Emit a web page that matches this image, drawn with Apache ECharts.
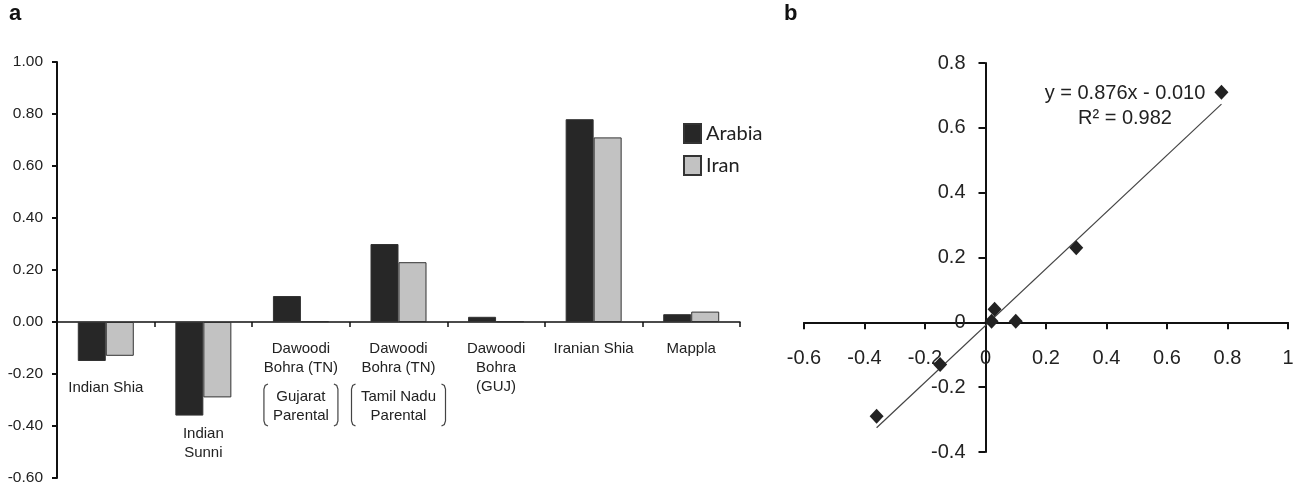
<!DOCTYPE html>
<html><head><meta charset="utf-8">
<script src="https://cdn.jsdelivr.net/npm/echarts@6/dist/echarts.min.js"></script>
<style>html,body{margin:0;padding:0;background:#fff}#c{width:1297px;height:488px}</style>
</head><body><div id="c"></div>
<script>
// ---- data ----
const categories = ['Indian Shia','Indian Sunni','DB_TN_G','DB_TN_T','DB_GUJ','Iranian Shia','Mappla'];
const categoryLabels = [
  '{sp39|\u00a0}\n{t|Indian Shia}',
  '{sp85|\u00a0}\n{t|Indian}\n{t|Sunni}',
  '{t|Dawoodi}\n{t|Bohra (TN)}\n{sp10|\u00a0}\n{t|Gujarat}\n{t|Parental}',
  '{t|Dawoodi}\n{t|Bohra (TN)}\n{sp10|\u00a0}\n{t|Tamil Nadu}\n{t|Parental}',
  '{t|Dawoodi}\n{t|Bohra}\n{t|(GUJ)}',
  '{t|Iranian Shia}',
  '{t|Mappla}'
];
const arabia = [-0.15, -0.36, 0.10, 0.30, 0.02, 0.78, 0.03];
const iran   = [-0.13, -0.29, 0.003, 0.23, 0.003, 0.71, 0.04];
const trendX = [-0.36, 0.78];
const trendY = [-0.325, 0.673];
const equationLines = ['y = 0.876x - 0.010', 'R² = 0.982'];
const bracketCats = [2, 3];

const FF = "'Liberation Sans', Arial, sans-serif";
const W = 1297, H = 488;
const G0 = { left: 57, right: 557, top: 62, bottom: 10 };
const G1 = { left: 804, right: 9, top: 63, bottom: 36 };
const Y0 = { min: -0.6, max: 1, interval: 0.2 };
const X1 = { min: -0.6, max: 1, interval: 0.2 };
const Y1 = { min: -0.4, max: 0.8, interval: 0.2 };
// layout offsets so tick labels sit along the zero lines
const g0h = H - G0.top - G0.bottom;
const zero0 = g0h * (Y0.max / (Y0.max - Y0.min));           // from grid top
const g1h = H - G1.top - G1.bottom, g1w = W - G1.left - G1.right;
const zero1y = g1h * (Y1.max / (Y1.max - Y1.min));
const zero1x = g1w * (-X1.min / (X1.max - X1.min));         // from grid left

const chart = echarts.init(document.getElementById('c'));
const scatterData = arabia.map((a, i) => [a, iran[i]]);
const rt = (lh) => ({ fontFamily: FF, fontSize: 15, lineHeight: lh, color: '#222' });

chart.setOption({
  animation: false,
  textStyle: { fontFamily: FF },
  grid: [
    Object.assign({ containLabel: false, outerBoundsMode: 'none' }, G0),
    Object.assign({ containLabel: false, outerBoundsMode: 'none' }, G1)
  ],
  legend: {
    data: ['Arabia', 'Iran'], orient: 'vertical', left: 678, top: 118,
    itemWidth: 17, itemHeight: 19, itemGap: 11, icon: 'rect',
    textStyle: { fontFamily: "Lato, 'Open Sans', sans-serif", fontSize: 20, color: '#222' }
  },
  xAxis: [
    { type: 'category', gridIndex: 0, data: categories, position: 'bottom',
      axisLine: { onZero: true, lineStyle: { color: '#111', width: 1.5 } },
      axisTick: { show: true, interval: 0, length: 5, lineStyle: { color: '#111', width: 1.5 } },
      axisLabel: { show: false }, splitLine: { show: false } },
    Object.assign({ type: 'value', gridIndex: 1, position: 'bottom',
      axisLine: { onZero: true, lineStyle: { color: '#111', width: 2 } },
      axisTick: { show: true, length: 7, lineStyle: { color: '#111', width: 2 } },
      axisLabel: { show: false }, splitLine: { show: false } }, X1),
    // label-only axes placed along the zero lines
    { type: 'category', gridIndex: 0, data: categories, position: 'top', offset: -zero0,
      axisLine: { show: false, onZero: false }, axisTick: { show: false },
      axisLabel: { inside: true, interval: 0, margin: 17, color: '#222',
        formatter: (v, i) => categoryLabels[i],
        rich: { t: rt(19), sp39: rt(39), sp85: rt(85), sp10: rt(10) } },
      splitLine: { show: false } },
    Object.assign({ type: 'value', gridIndex: 1, position: 'top', offset: -zero1y,
      axisLine: { show: false, onZero: false }, axisTick: { show: false },
      axisLabel: { inside: true, margin: 26, fontSize: 20, color: '#222', fontFamily: FF },
      splitLine: { show: false } }, X1)
  ],
  yAxis: [
    Object.assign({ type: 'value', gridIndex: 0,
      axisLine: { show: true, onZero: false, lineStyle: { color: '#111', width: 2 } },
      axisTick: { show: true, length: 5, lineStyle: { color: '#111', width: 2 } },
      axisLabel: { margin: 14, fontSize: 15.5, color: '#222', fontFamily: FF, formatter: v => v.toFixed(2) },
      splitLine: { show: false } }, Y0),
    Object.assign({ type: 'value', gridIndex: 1, position: 'left',
      axisLine: { show: true, onZero: true, lineStyle: { color: '#111', width: 2 } },
      axisTick: { show: true, length: 7, lineStyle: { color: '#111', width: 2 } },
      axisLabel: { show: false }, splitLine: { show: false } }, Y1),
    Object.assign({ type: 'value', gridIndex: 1, position: 'right', offset: -(g1w - zero1x),
      axisLine: { show: false, onZero: false }, axisTick: { show: false },
      axisLabel: { inside: true, margin: 20, fontSize: 20, color: '#222', fontFamily: FF },
      splitLine: { show: false } }, Y1)
  ],
  series: [
    { name: 'Arabia', type: 'bar', xAxisIndex: 0, yAxisIndex: 0, data: arabia,
      barWidth: 28, barGap: '0%',
      itemStyle: { color: '#272727', borderColor: '#333', borderWidth: 1 } },
    { name: 'Iran', type: 'bar', xAxisIndex: 0, yAxisIndex: 0, data: iran,
      barWidth: 28, barGap: '0%',
      itemStyle: { color: '#c2c2c2', borderColor: '#333', borderWidth: 1 } },
    { name: 'scatter', type: 'scatter', xAxisIndex: 1, yAxisIndex: 1, data: scatterData,
      symbol: 'diamond', symbolSize: [14, 15], itemStyle: { color: '#222', opacity: 1 }, z: 3 },
    { name: 'trend', type: 'line', xAxisIndex: 1, yAxisIndex: 1,
      data: trendX.map((x, i) => [x, trendY[i]]), symbol: 'none',
      lineStyle: { color: '#444', width: 1.2 }, z: 2 }
  ]
});

// decorations: panel letters, equation text, brackets around parental labels
const g = [
  { type: 'text', left: 9, top: 3, style: { text: 'a', fontFamily: FF, fontSize: 22, fontWeight: 'bold', fill: '#111' } },
  { type: 'text', left: 784, top: 3, style: { text: 'b', fontFamily: FF, fontSize: 22, fontWeight: 'bold', fill: '#111' } },
  { type: 'text', x: 1125, y: 81, style: { text: equationLines.join('\n'), fontFamily: FF, fontSize: 20, lineHeight: 25, fill: '#222', align: 'center' } }
];
const halfW = { 2: 37, 3: 47 };
bracketCats.forEach(ci => {
  const cx = chart.convertToPixel({ xAxisIndex: 0 }, categories[ci]);
  const top = 384, bot = 426, w = halfW[ci];
  const lx = cx - w, rx = cx + w;
  const br = (x, d) => [[x + 4*d, top], [x + 1.2*d, top + 1.5], [x, top + 5], [x, bot - 5], [x + 1.2*d, bot - 1.5], [x + 4*d, bot]];
  g.push({ type: 'polyline', shape: { points: br(lx, 1) }, style: { stroke: '#444', lineWidth: 1.2, fill: null } });
  g.push({ type: 'polyline', shape: { points: br(rx, -1) }, style: { stroke: '#444', lineWidth: 1.2, fill: null } });
});
chart.setOption({ graphic: g });
</script></body></html>
